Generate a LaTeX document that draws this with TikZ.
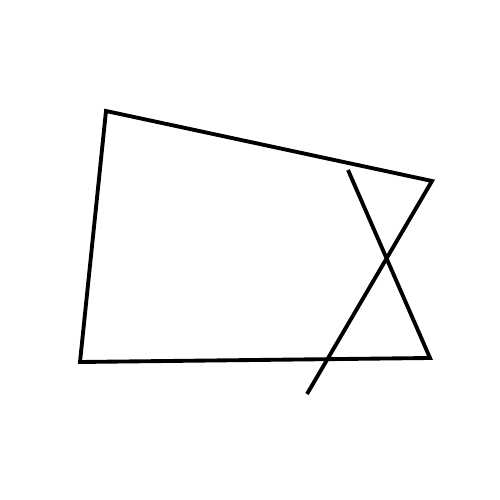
\documentclass[tikz,border=0pt]{standalone}
\usetikzlibrary{positioning}
\tikzset{
  stroke-line/.style={draw=black,line width=2.2pt,line join=miter},
}
\begin{document}
\begin{tikzpicture}
  \useasboundingbox (0,0) rectangle (10,10);
  \coordinate (tail)   at (6.14,2.12);
  \coordinate (right)  at (8.64,6.38);
  \coordinate (topL)   at (2.12,7.78);
  \coordinate (botL)   at (1.60,2.76);
  \coordinate (botR)   at (8.60,2.84);
  \coordinate (head)   at (6.96,6.60);
  \draw[stroke-line] (tail) -- (right) -- (topL) -- (botL) -- (botR) -- (head);
\end{tikzpicture}
\end{document}
